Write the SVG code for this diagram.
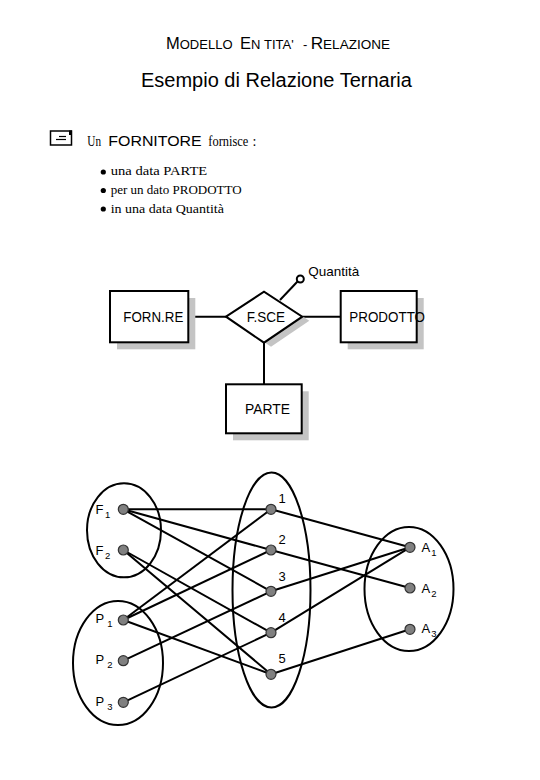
<svg xmlns="http://www.w3.org/2000/svg" width="540" height="780" viewBox="0 0 540 780">
<style>
  .sans { font-family: "Liberation Sans", Arial, sans-serif; fill: #000; }
  .cal { font-family: "Liberation Serif", "Times New Roman", serif; fill: #000; }
  .ln { stroke: #000; stroke-width: 2; fill: none; }
  .box { fill: #fff; stroke: #000; stroke-width: 2; }
  .shadow { fill: #c4c4c4; stroke: none; }
  .set { fill: none; stroke: #000; stroke-width: 2; }
  .pt { fill: #808080; stroke: #333; stroke-width: 1.2; }
  .lbl { font-family: "Liberation Sans", Arial, sans-serif; font-size: 13px; fill: #000; }
  .sub { font-size: 9.5px; }
  .big { font-size: 16.5px; }
</style>
<rect width="540" height="780" fill="#fff"/>

<!-- Titles -->
<g id="title1" class="sans" font-size="13">
  <text x="166" y="48.7"><tspan class="big">M</tspan>ODELLO</text>
  <text x="240" y="48.7"><tspan class="big">E</tspan>N<tspan x="264">TITA'</tspan></text>
  <text x="303" y="48.7">-</text>
  <text x="310.7" y="48.7" textLength="79.3" lengthAdjust="spacingAndGlyphs"><tspan class="big">R</tspan>ELAZIONE</text>
</g>
<g id="title2">
  <text class="sans" x="141" y="86.7" font-size="20">Esempio di Relazione Ternaria</text>
</g>

<!-- Intro text -->
<g id="icon">
  <rect x="50.5" y="131" width="21" height="14" fill="#fff" stroke="#000" stroke-width="1.5"/>
  <rect x="69" y="130.5" width="3" height="4.5" fill="#000"/>
  <line x1="59" y1="136.5" x2="66" y2="136.5" stroke="#000" stroke-width="1.2"/>
  <line x1="56" y1="139.5" x2="66" y2="139.5" stroke="#000" stroke-width="1.2"/>
</g>
<g id="intro">
  <text class="cal" x="87.3" y="146.3" font-size="14" textLength="13.7" lengthAdjust="spacingAndGlyphs">Un</text>
  <text class="sans" x="108.3" y="146.3" font-size="15" textLength="93.4" lengthAdjust="spacingAndGlyphs">FORNITORE</text>
  <text class="cal" x="208.3" y="146.3" font-size="14" textLength="40" lengthAdjust="spacingAndGlyphs">fornisce</text>
  <text class="cal" x="252.5" y="146.3" font-size="14">:</text>
</g>
<g id="bullets">
  <circle cx="103.3" cy="172" r="2.6" fill="#000"/>
  <circle cx="103.3" cy="190.5" r="2.6" fill="#000"/>
  <circle cx="103.3" cy="209" r="2.6" fill="#000"/>
  <text class="cal" x="110.7" y="175" font-size="12" textLength="96.6" lengthAdjust="spacingAndGlyphs">una data PARTE</text>
  <text class="cal" x="110.7" y="193.8" font-size="12" textLength="131" lengthAdjust="spacingAndGlyphs">per un dato PRODOTTO</text>
  <text class="cal" x="110.7" y="212.5" font-size="12" textLength="113.3" lengthAdjust="spacingAndGlyphs">in una data Quantità</text>
</g>

<!-- ER diagram connectors -->
<g id="er-connectors">
  <line class="ln" x1="188.5" y1="316.7" x2="226" y2="316.7"/>
  <line class="ln" x1="302.3" y1="316.7" x2="340.7" y2="316.7"/>
  <line class="ln" x1="264" y1="342.7" x2="264" y2="384.3"/>
  <line class="ln" x1="280" y1="300" x2="297.5" y2="281.5"/>
</g>
<g id="forn">
  <rect class="shadow" x="117" y="298" width="78.3" height="51.3"/>
  <rect class="box" x="110" y="291" width="78.3" height="51.3"/>
  <text class="sans" x="123.3" y="321.7" font-size="14" textLength="60" lengthAdjust="spacingAndGlyphs">FORN.RE</text>
</g>
<g id="fsce">
  <polygon class="shadow" points="233,320.7 271,295.7 309.3,320.7 271,346.7"/>
  <polygon class="box" points="226,316.7 264,291.7 302.3,316.7 264,342.7"/>
  <text class="sans" x="246.7" y="321.7" font-size="14" textLength="38.3" lengthAdjust="spacingAndGlyphs">F.SCE</text>
</g>
<g id="prodotto">
  <rect class="shadow" x="347.7" y="298" width="76" height="51.3"/>
  <rect class="box" x="340.7" y="291" width="76" height="51.3"/>
  <text class="sans" x="349.3" y="321.7" font-size="14" textLength="75.7" lengthAdjust="spacingAndGlyphs">PRODOTTO</text>
</g>
<g id="parte">
  <rect class="shadow" x="233" y="391.3" width="75.7" height="49"/>
  <rect class="box" x="226" y="384.3" width="75.7" height="49"/>
  <text class="sans" x="245" y="414.3" font-size="14" textLength="45" lengthAdjust="spacingAndGlyphs">PARTE</text>
</g>
<g id="quantita">
  <circle cx="300.3" cy="279" r="3.5" fill="#fff" stroke="#000" stroke-width="2"/>
  <text class="sans" x="308.3" y="276" font-size="13.5" textLength="51" lengthAdjust="spacingAndGlyphs">Quantità</text>
</g>

<!-- Sets -->
<g id="setF"><ellipse class="set" cx="124" cy="530.3" rx="37" ry="47"/></g>
<g id="setP"><ellipse class="set" cx="118" cy="663" rx="45" ry="62"/></g>
<g id="setN"><ellipse class="set" cx="271.5" cy="590" rx="39" ry="117.5"/></g>
<g id="setA"><ellipse class="set" cx="409" cy="589" rx="44.5" ry="62"/></g>

<!-- Graph connectors -->
<g id="connectors" class="ln">
  <line x1="123.3" y1="509.3" x2="271" y2="509.3"/>
  <line x1="123.3" y1="509.3" x2="271" y2="550"/>
  <line x1="123.3" y1="509.3" x2="271" y2="591.3"/>
  <line x1="123.3" y1="550" x2="271" y2="632.7"/>
  <line x1="123.3" y1="550" x2="271" y2="674.3"/>
  <line x1="123.3" y1="620" x2="271" y2="509.3"/>
  <line x1="123.3" y1="620" x2="271" y2="550"/>
  <line x1="123.3" y1="620" x2="271" y2="674.3"/>
  <line x1="123.3" y1="660.7" x2="271" y2="591.3"/>
  <line x1="123.3" y1="702.3" x2="271" y2="632.7"/>
  <line x1="271" y1="509.3" x2="410" y2="547.3"/>
  <line x1="271" y1="550" x2="410" y2="588"/>
  <line x1="271" y1="591.3" x2="410" y2="547.3"/>
  <line x1="271" y1="632.7" x2="410" y2="547.3"/>
  <line x1="271" y1="674.3" x2="410" y2="629.3"/>
</g>

<!-- Points -->
<g id="F1"><circle class="pt" cx="123.3" cy="509.3" r="5"/><text class="lbl" x="95.5" y="514">F<tspan class="sub" dx="1.5" dy="4">1</tspan></text></g>
<g id="F2"><circle class="pt" cx="123.3" cy="550" r="5"/><text class="lbl" x="95.5" y="555">F<tspan class="sub" dx="1.5" dy="4">2</tspan></text></g>
<g id="P1"><circle class="pt" cx="123.3" cy="620" r="5"/><text class="lbl" x="95.5" y="623">P<tspan class="sub" dx="3" dy="4">1</tspan></text></g>
<g id="P2"><circle class="pt" cx="123.3" cy="660.7" r="5"/><text class="lbl" x="95.5" y="664">P<tspan class="sub" dx="3" dy="4">2</tspan></text></g>
<g id="P3"><circle class="pt" cx="123.3" cy="702.3" r="5"/><text class="lbl" x="95.5" y="705.5">P<tspan class="sub" dx="3" dy="4">3</tspan></text></g>
<g id="n1"><circle class="pt" cx="271" cy="509.3" r="5"/><text class="lbl" x="278.5" y="503.3" font-size="12">1</text></g>
<g id="n2"><circle class="pt" cx="271" cy="550" r="5"/><text class="lbl" x="278.5" y="544.3" font-size="12">2</text></g>
<g id="n3"><circle class="pt" cx="271" cy="591.3" r="5"/><text class="lbl" x="278.5" y="580.7" font-size="12">3</text></g>
<g id="n4"><circle class="pt" cx="271" cy="632.7" r="5"/><text class="lbl" x="278.5" y="621.7" font-size="12">4</text></g>
<g id="n5"><circle class="pt" cx="271" cy="674.3" r="5"/><text class="lbl" x="278.5" y="663.3" font-size="12">5</text></g>
<g id="A1"><circle class="pt" cx="410" cy="547.3" r="5"/><text class="lbl" x="421.5" y="551.7">A<tspan class="sub" dx="1" dy="4">1</tspan></text></g>
<g id="A2"><circle class="pt" cx="410" cy="588" r="5"/><text class="lbl" x="421.5" y="592.7">A<tspan class="sub" dx="1" dy="4">2</tspan></text></g>
<g id="A3"><circle class="pt" cx="410" cy="629.3" r="5"/><text class="lbl" x="421.5" y="633.3">A<tspan class="sub" dx="1" dy="4">3</tspan></text></g>
</svg>
